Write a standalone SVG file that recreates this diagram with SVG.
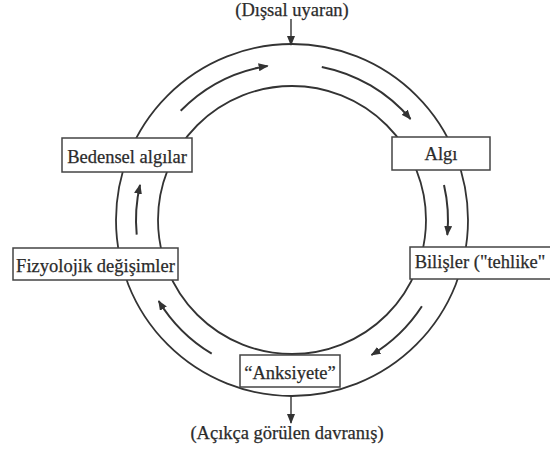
<svg xmlns="http://www.w3.org/2000/svg" width="550" height="458" viewBox="0 0 550 458">
  <style>
    .ring { fill: none; stroke: #333; stroke-width: 1.8; }
    .flow { fill: none; stroke: #333; stroke-width: 2; marker-end: url(#head); }
    .link { fill: none; stroke: #333; stroke-width: 1.4; marker-end: url(#head); }
    .box { fill: #fff; stroke: #444; stroke-width: 1.5; }
    .lbl { font-family: "Liberation Serif", "Times New Roman", serif; font-size: 18.5px; fill: #2b2b2b; stroke: #2b2b2b; stroke-width: 0.25; text-anchor: middle; }
  </style>
  <defs>
    <marker id="head" viewBox="0 0 10 8" refX="9" refY="4" markerWidth="10" markerHeight="8" markerUnits="userSpaceOnUse" orient="auto">
      <path d="M0,0 L10,4 L0,8 Z" fill="#333"/>
    </marker>
  </defs>
  <rect width="550" height="458" fill="#fff"/>

  <!-- the cycle ring -->
  <g id="ring">
    <circle class="ring" cx="292" cy="220" r="176"/>
    <circle class="ring" cx="292" cy="220" r="134"/>
  </g>

  <g id="connectors">
    <!-- external input and output -->
    <line class="link" x1="291" y1="19" x2="291" y2="45"/>
    <line class="link" x1="291" y1="395" x2="291" y2="423"/>
    <!-- clockwise flow inside the ring -->
    <path class="flow" d="M180.7,110.7 A156,156 0 0 1 267.6,65.9"/>
    <path class="flow" d="M321.8,66.9 A156,156 0 0 1 410.5,119.0"/>
    <path class="flow" d="M444.0,184.9 A156,156 0 0 1 447.3,234.9"/>
    <path class="flow" d="M421.9,306.3 A156,156 0 0 1 371.5,355.0"/>
    <path class="flow" d="M211.7,353.7 A156,156 0 0 1 158.7,301.0"/>
    <path class="flow" d="M136.7,234.7 A156,156 0 0 1 140.0,184.9"/>
  </g>

  <g id="stimulus">
    <text class="lbl" x="292" y="15.5">(Dışsal uyaran)</text>
  </g>

  <g id="algi">
    <rect class="box" x="392" y="137" width="98" height="33"/>
    <text class="lbl" x="441" y="160">Algı</text>
  </g>

  <g id="bilisler">
    <rect class="box" x="410" y="247" width="142" height="32"/>
    <text class="lbl" x="480" y="268">Bilişler ("tehlike"</text>
  </g>

  <g id="anksiyete">
    <rect class="box" x="240" y="355" width="100" height="32"/>
    <text class="lbl" x="290" y="379">“Anksiyete”</text>
  </g>

  <g id="fizyolojik">
    <rect class="box" x="13" y="248" width="165" height="32"/>
    <text class="lbl" x="95.5" y="271.5">Fizyolojik değişimler</text>
  </g>

  <g id="bedensel">
    <rect class="box" x="62" y="138" width="130" height="34"/>
    <text class="lbl" x="127" y="163">Bedensel algılar</text>
  </g>

  <g id="behaviour">
    <text class="lbl" x="287" y="439">(Açıkça görülen davranış)</text>
  </g>
</svg>
